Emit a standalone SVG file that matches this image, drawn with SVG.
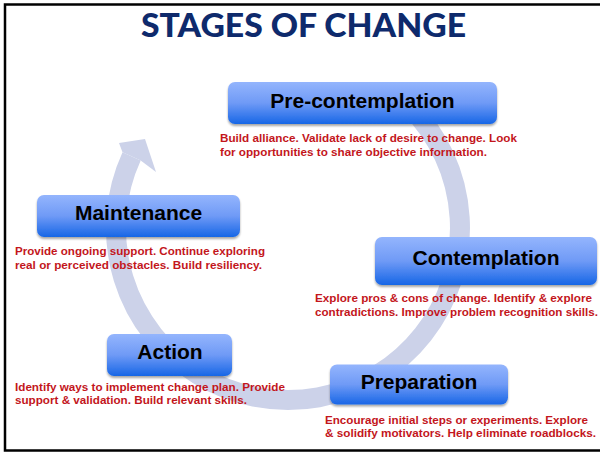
<svg xmlns="http://www.w3.org/2000/svg" width="600" height="452" viewBox="0 0 600 452">
  <defs>
    <linearGradient id="boxGrad" x1="0" y1="0" x2="0" y2="1">
      <stop offset="0" stop-color="#94b5fd"/>
      <stop offset="0.5" stop-color="#6f9af6"/>
      <stop offset="1" stop-color="#1766e6"/>
    </linearGradient>
    <filter id="shadow" x="-10%" y="-20%" width="120%" height="150%">
      <feGaussianBlur in="SourceAlpha" stdDeviation="1.2"/>
      <feOffset dx="0" dy="2" result="b"/>
      <feComponentTransfer><feFuncA type="linear" slope="0.35"/></feComponentTransfer>
      <feMerge><feMergeNode/><feMergeNode in="SourceGraphic"/></feMerge>
    </filter>
  </defs>
  <style>
    .box { fill: url(#boxGrad); filter: url(#shadow); }
    .label { font-family: "Liberation Sans", Arial, sans-serif; font-weight: bold; font-size: 21px; fill: #000; text-anchor: middle; }
    .desc { font-family: "Liberation Sans", Arial, sans-serif; font-weight: bold; font-size: 10.5px; fill: #c3161c; }
    .title { font-family: Lato, "Liberation Sans", sans-serif; font-weight: 900; font-size: 32px; fill: #0e2a6c; text-anchor: middle; }
    .ring { fill: none; stroke: #ccd2e9; stroke-width: 20; }
    .head { fill: #ccd2e9; }
  </style>
  <rect x="0" y="0" width="600" height="452" fill="#ffffff"/>
  <rect x="5" y="4.5" width="700" height="446" fill="none" stroke="#000" stroke-width="2.5"/>
  <text class="title" x="303.5" y="37" textLength="325" lengthAdjust="spacingAndGlyphs">STAGES OF CHANGE</text>

  <g id="connectors">
    <path class="ring" d="M 409.6 106.4 A 172 172 0 1 1 131.6 156.4"/>
    <polygon class="head" points="122.5,152.2 119,143 145,139 156,172 140.7,160.6"/>
  </g>

  <g id="node-precontemplation">
    <rect class="box" x="228" y="82" width="269" height="42" rx="7"/>
    <text class="label" x="362.5" y="107.5">Pre-contemplation</text>
    <text class="desc" x="220" y="142" textLength="297" lengthAdjust="spacingAndGlyphs">Build alliance. Validate lack of desire to change. Look</text>
    <text class="desc" x="220" y="156" textLength="267" lengthAdjust="spacingAndGlyphs">for opportunities to share objective information.</text>
  </g>

  <g id="node-maintenance">
    <rect class="box" x="37" y="195" width="203" height="42" rx="7"/>
    <text class="label" x="138.5" y="219.7">Maintenance</text>
    <text class="desc" x="15" y="255" textLength="250" lengthAdjust="spacingAndGlyphs">Provide ongoing support. Continue exploring</text>
    <text class="desc" x="15" y="269" textLength="247" lengthAdjust="spacingAndGlyphs">real or perceived obstacles. Build resiliency.</text>
  </g>

  <g id="node-contemplation">
    <rect class="box" x="375" y="237" width="222" height="48" rx="7"/>
    <text class="label" x="486" y="265">Contemplation</text>
    <text class="desc" x="315" y="302" textLength="277" lengthAdjust="spacingAndGlyphs">Explore pros &amp; cons of change. Identify &amp; explore</text>
    <text class="desc" x="315" y="316" textLength="283" lengthAdjust="spacingAndGlyphs">contradictions. Improve problem recognition skills.</text>
  </g>

  <g id="node-action">
    <rect class="box" x="107" y="334" width="125" height="42" rx="7"/>
    <text class="label" x="170" y="358.5">Action</text>
    <text class="desc" x="15" y="391" textLength="270" lengthAdjust="spacingAndGlyphs">Identify ways to implement change plan. Provide</text>
    <text class="desc" x="15" y="404" textLength="232" lengthAdjust="spacingAndGlyphs">support &amp; validation. Build relevant skills.</text>
  </g>

  <g id="node-preparation">
    <rect class="box" x="330" y="364.5" width="178" height="40" rx="7"/>
    <text class="label" x="419" y="388.5">Preparation</text>
    <text class="desc" x="325" y="423.5" textLength="263" lengthAdjust="spacingAndGlyphs">Encourage initial steps or experiments. Explore</text>
    <text class="desc" x="325" y="437" textLength="271" lengthAdjust="spacingAndGlyphs">&amp; solidify motivators. Help eliminate roadblocks.</text>
  </g>
</svg>
